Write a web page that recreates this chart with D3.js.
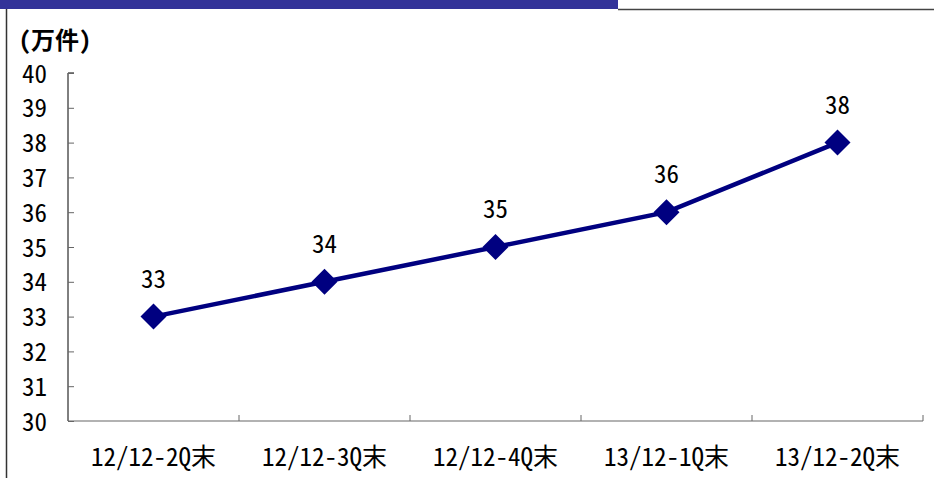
<!DOCTYPE html>
<html><head><meta charset="utf-8">
<script src="https://cdn.jsdelivr.net/npm/d3@7"></script>
<style>
html,body{margin:0;padding:0;background:#fff;}
svg{display:block;}
text{font-family:"Noto Sans Mono CJK JP","Noto Sans CJK JP",sans-serif;fill:#000;}
</style></head>
<body>
<svg id="c" width="934" height="478"></svg>
<script>
const categories = ["12/12-2Q末","12/12-3Q末","12/12-4Q末","13/12-1Q末","13/12-2Q末"];
const values = [33, 34, 35, 36, 38];
const yTicks = [30,31,32,33,34,35,36,37,38,39,40];
const unitLabel = "(万件)";

const FONT = '"Noto Sans Mono CJK JP","Noto Sans CJK JP",sans-serif';
const SX = 1, FS = 25;
const svg = d3.select("#c");
const m = {left:68, right:923, top:73, bottom:421};

// frame decorations
svg.append("rect").attr("x",0).attr("y",0).attr("width",618).attr("height",9).attr("fill","#333399");
svg.append("line").attr("x1",618).attr("x2",934).attr("y1",9.5).attr("y2",9.5).attr("stroke","#444").attr("stroke-width",1.5);
svg.append("line").attr("x1",6.5).attr("x2",6.5).attr("y1",9).attr("y2",478).attr("stroke","#333").attr("stroke-width",1.5);

const x = d3.scaleBand().domain(categories).range([m.left, m.right]);
const y = d3.scaleLinear().domain([30,40]).range([m.bottom, m.top]);

// y axis
const ya = svg.append("g").attr("transform",`translate(${m.left},0)`)
  .call(d3.axisRight(y).tickValues(yTicks).tickSize(6).tickFormat(d3.format("d")));
ya.select(".domain").attr("stroke","#000").attr("d",`M6,${m.top}H0V${m.bottom}`);
ya.selectAll(".tick line").attr("stroke","#666");
ya.selectAll(".tick text").attr("x",0).attr("y",0).attr("dy",null)
  .attr("transform",`translate(-21,9) scale(${SX},1)`)
  .attr("text-anchor","end").attr("font-size",FS)
  .attr("font-family",FONT).attr("fill","#000");

// x axis
const xa = svg.append("g").attr("transform",`translate(0,${m.bottom})`);
xa.append("line").attr("x1",m.left).attr("x2",m.right).attr("y1",0).attr("y2",0).attr("stroke","#666").attr("stroke-width",1.2);
const bounds = categories.map((c,i)=> x(c)+x.bandwidth());
xa.selectAll("line.tk").data(bounds).join("line").attr("class","tk")
  .attr("x1",d=>d).attr("x2",d=>d).attr("y1",0).attr("y2",-6).attr("stroke","#666");
xa.selectAll("text").data(categories).join("text")
  .attr("transform",d=>`translate(${x(d)+x.bandwidth()/2},45) scale(${SX},1)`)
  .attr("text-anchor","middle").attr("font-size",FS).text(d=>d);

// unit label
svg.append("text").attr("x",19).attr("y",49).attr("font-size",24)
  .attr("font-family",'"Noto Sans CJK JP",sans-serif').attr("font-weight","bold").text(unitLabel);

// line
const pts = categories.map((c,i)=>({c, v:values[i]}));
svg.append("path").datum(pts)
  .attr("d", d3.line().x(d=>x(d.c)+x.bandwidth()/2).y(d=>y(d.v)))
  .attr("fill","none").attr("stroke","#000080").attr("stroke-width",4.5);

svg.selectAll("path.mk").data(pts).join("path").attr("class","mk")
  .attr("transform",d=>`translate(${x(d.c)+x.bandwidth()/2},${y(d.v)})`)
  .attr("d","M0,-13L13,0L0,13L-13,0Z").attr("fill","#000080");

svg.selectAll("text.lbl").data(pts).join("text").attr("class","lbl")
  .attr("transform",d=>`translate(${x(d.c)+x.bandwidth()/2},${y(d.v)-29}) scale(${SX},1)`)
  .attr("text-anchor","middle").attr("font-size",FS).text(d=>d.v);
</script>
</body></html>
